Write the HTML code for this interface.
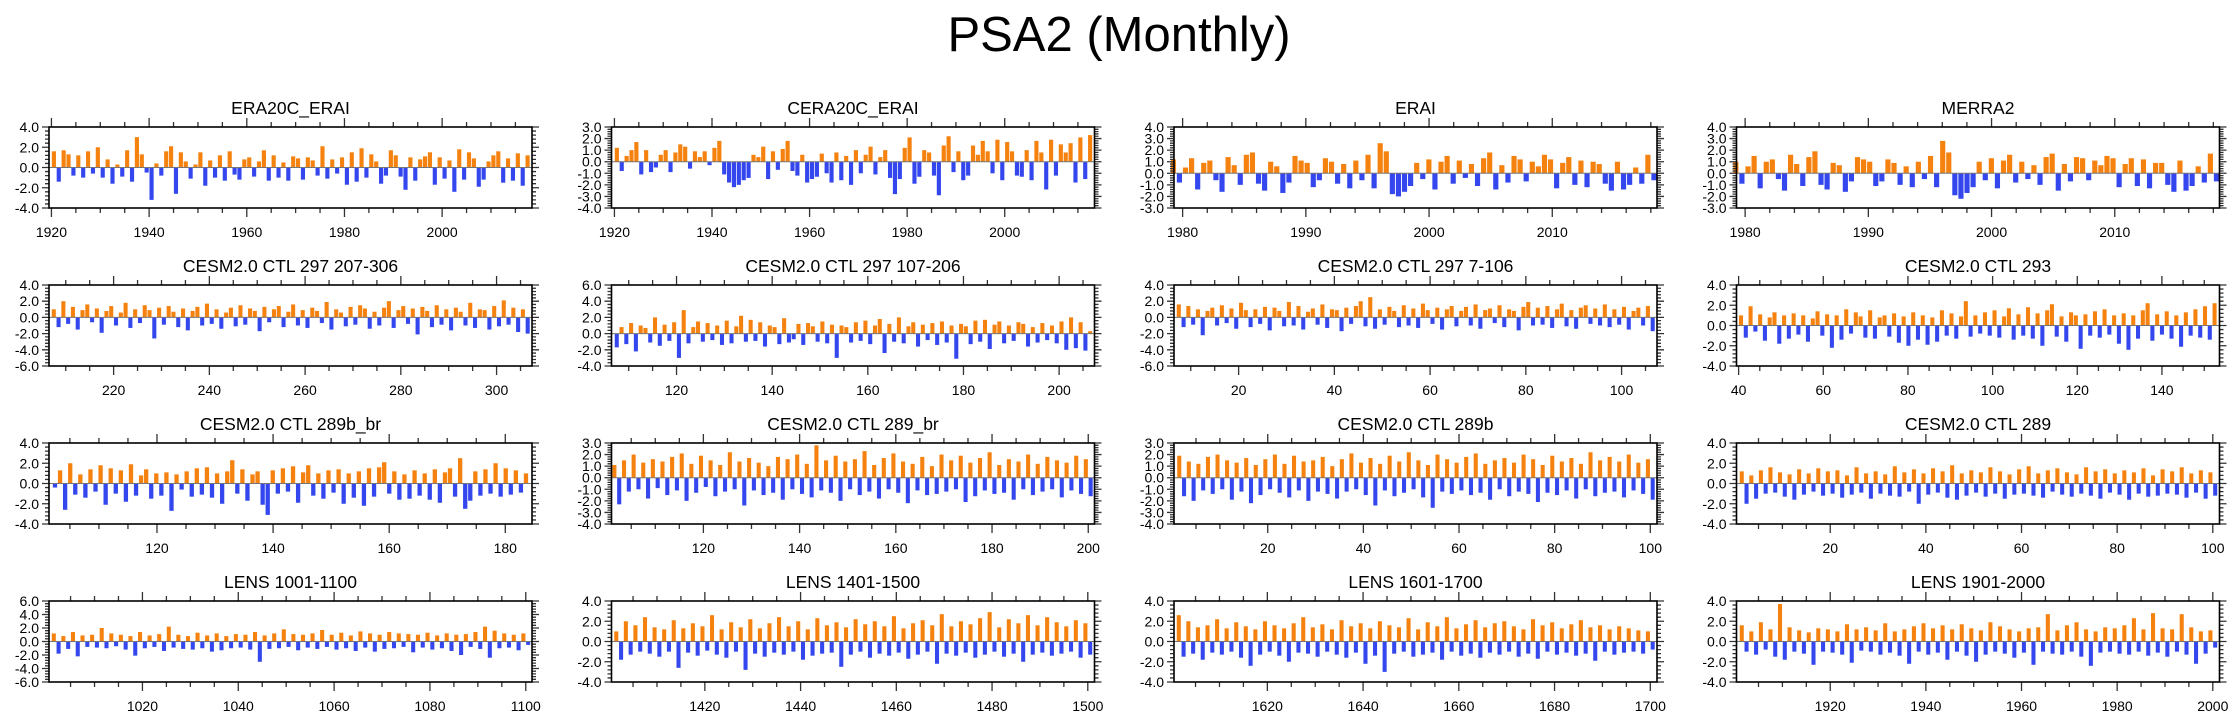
<!DOCTYPE html>
<html><head><meta charset="utf-8"><title>PSA2 (Monthly)</title>
<style>
html,body{margin:0;padding:0;background:#fff;}
svg{display:block;font-family:"Liberation Sans",Arial,sans-serif;}
</style></head>
<body>
<svg id="fig" width="2238" height="719" viewBox="0 0 2238 719" xmlns="http://www.w3.org/2000/svg">
<text x="1119" y="51" font-size="49" text-anchor="middle" fill="#000">PSA2 (Monthly)</text>
</svg>
<script>
const panelTitles = ["ERA20C_ERAI","CERA20C_ERAI","ERAI","MERRA2",
"CESM2.0 CTL 297 207-306","CESM2.0 CTL 297 107-206","CESM2.0 CTL 297 7-106","CESM2.0 CTL 293",
"CESM2.0 CTL 289b_br","CESM2.0 CTL 289_br","CESM2.0 CTL 289b","CESM2.0 CTL 289",
"LENS 1001-1100","LENS 1401-1500","LENS 1601-1700","LENS 1901-2000"];
const xDomains = [[1919.5,2018.4],[1919.4,2018.4],[1979.3,2018.5],[1979.3,2018.5],
[206.5,307.4],[106.4,207.4],[6.5,107.4],[39.5,153.6],
[101.4,184.6],[100.9,201.3],[0.4,101.4],[0.4,101.4],
[1000.5,1101.3],[1400.5,1501.4],[1600.5,1701.4],[1900.4,2001.4]];
const xStart = [1920,1920,1979,1979,207,107,7,40,102,101,1,1,1001,1401,1601,1901];
const xEnd   = [2018,2018,2018.5,2018.5,307,207,107,153,184,201,101,101,1101,1501,1701,2001];
const xMajorStep = [20,20,10,10,20,20,20,20,20,20,20,20,20,20,20,20];
const xMinorStep = [5,5,2,2,5,5,5,5,5,5,5,5,5,5,5,5];
const yDomains = [[-4,4],[-4,3],[-3,4],[-3,4],[-6,4],[-4,6],[-6,4],[-4,4],
[-4,4],[-4,3],[-4,3],[-4,4],[-6,6],[-4,4],[-4,4],[-4,4]];
const yMajorStep = [2,1,1,1,2,2,2,2,2,1,1,2,2,2,2,2];

const s1=[1.6,-1.4,1.7,1.3,-0.8,1.2,-1.0,1.6,-0.6,2.0,-1.0,0.8,-1.6,0.3,-0.9,1.7,-1.4,3.0,1.3,-0.5,-3.2,0.4,-0.8,1.6,2.1,-2.6,1.5,0.6,-1.1,0.3,1.5,-1.8,0.7,-1.0,1.2,-1.3,1.6,-0.7,-1.2,0.8,1.0,-0.9,0.6,1.7,-1.3,1.2,-1.0,0.5,-1.3,1.1,0.9,-1.2,1.0,0.7,-0.8,2.1,-1.1,0.8,-0.6,1.0,-1.7,1.5,-1.4,1.9,-1.0,1.3,0.6,-1.6,-0.8,1.7,1.2,-0.9,-2.2,1.0,-1.3,0.8,1.1,1.5,-1.7,1.0,-1.1,0.7,-2.4,1.8,-1.2,1.5,0.9,-1.9,-1.2,0.6,1.2,1.6,-1.5,0.9,-1.3,1.4,-1.8,1.2];
const s2=[1.2,-0.8,0.5,1.0,1.7,-1.1,1.0,-0.9,-0.5,0.6,1.0,-0.9,0.8,1.5,1.3,-0.6,0.9,0.4,0.9,-0.3,1.2,1.8,-1.1,-1.8,-2.2,-2.0,-1.6,-1.4,0.6,0.4,1.3,-1.5,0.9,-0.7,1.1,1.8,-0.8,-1.2,0.6,-1.8,-1.5,-1.3,0.7,-1.0,-1.8,0.8,-1.6,0.5,-2.0,1.0,-1.0,0.6,1.3,-1.1,0.4,1.0,-1.4,-2.8,-1.5,1.2,2.1,-1.9,-1.3,1.0,0.8,-1.2,-2.9,1.4,2.2,-0.9,0.9,-1.6,-1.2,1.4,0.6,1.8,0.9,-1.0,1.9,-1.6,1.7,0.9,-1.2,-1.3,1.0,-1.6,1.8,0.8,-2.4,1.9,-1.2,1.5,0.8,1.6,-1.8,2.1,-1.5,2.3];
const s3=[1.2,-0.8,0.5,1.3,-1.4,0.9,1.1,-0.6,-1.6,1.4,0.7,-1.0,1.6,1.8,-0.9,-1.5,1.0,0.6,-1.7,-0.8,1.5,1.1,0.9,-1.2,-0.6,1.3,1.0,-0.9,0.8,-1.3,1.1,-0.6,1.6,-1.3,2.6,1.9,-1.8,-2.0,-1.6,-1.1,0.9,-0.5,1.2,-1.4,1.0,1.5,-0.9,1.1,-0.4,0.8,-1.1,1.3,1.8,-1.4,0.7,-0.8,1.5,1.2,-0.7,1.0,0.6,1.6,1.2,-1.3,0.9,1.4,-1.0,1.1,-1.2,1.0,0.8,-0.9,-1.5,1.0,-1.4,-1.0,0.5,-0.9,1.6,-0.6];
const s4=[1.0,-0.9,0.6,1.5,-1.3,1.0,1.2,-0.5,-1.5,1.6,0.8,-1.1,1.4,1.9,-1.0,-1.4,0.9,0.7,-1.6,-0.7,1.4,1.2,1.0,-1.1,-0.7,1.2,0.9,-1.0,0.6,-1.2,1.0,-0.5,1.5,-1.2,2.8,1.8,-1.9,-2.2,-1.7,-1.2,1.0,-0.6,1.3,-1.3,1.1,1.6,-0.8,1.0,-0.5,0.7,-1.0,1.4,1.7,-1.5,0.8,-0.7,1.4,1.3,-0.6,1.1,0.7,1.5,1.3,-1.2,0.8,1.3,-1.1,1.2,-1.3,0.9,0.9,-1.0,-1.6,1.1,-1.5,-1.1,0.6,-0.8,1.7,-0.7];
const s5=[1.0,-1.2,2.0,-0.8,1.3,-1.5,0.9,1.6,-0.6,1.1,-1.9,0.8,1.4,-1.0,0.6,1.8,-1.3,1.0,-0.7,1.5,0.9,-2.6,1.2,-0.9,1.4,0.7,-1.2,1.1,-1.6,0.8,1.3,-1.0,1.7,-0.8,1.0,-1.4,0.6,1.2,-1.1,1.5,-0.9,1.1,0.8,-1.7,1.3,-0.6,1.0,1.4,-1.2,0.7,1.6,-1.0,0.9,-1.3,1.2,0.8,-0.7,1.9,-1.5,1.0,0.6,-1.1,1.3,-0.9,1.5,1.1,-1.4,0.7,-1.0,1.2,2.0,-1.3,0.9,1.4,-0.8,1.1,-2.1,1.3,0.8,-1.2,1.5,-0.9,1.0,-1.6,1.2,0.7,-1.0,1.8,-1.3,1.0,0.9,-1.5,1.4,-1.1,2.1,-0.9,1.2,-1.8,1.0,-2.0];
const s6=[-1.7,0.8,-1.3,1.3,-2.2,1.0,0.7,-1.1,2.0,-1.5,1.1,-0.9,1.4,-3.0,2.9,-1.2,0.8,1.5,-1.0,1.3,-0.8,1.0,-1.4,1.6,-1.2,0.9,2.2,-1.0,1.7,-0.9,1.4,-1.6,1.0,0.8,-1.3,1.9,-1.1,-0.7,1.2,-1.4,1.3,0.9,-1.0,1.5,-1.2,1.1,-3.0,1.0,0.8,-1.1,1.4,-0.9,1.6,-1.3,1.0,1.8,-2.4,1.2,-1.0,2.0,-1.2,0.9,1.4,-1.6,1.1,-0.8,1.3,-1.4,1.5,-1.1,1.0,-3.1,1.2,0.9,-1.3,1.6,-1.0,1.7,-1.9,1.1,1.5,-1.2,1.0,-0.9,1.4,1.2,-1.6,0.8,-1.1,1.3,-0.8,1.0,-1.2,1.5,-2.0,2.0,-1.8,1.4,-2.1,0.3];
const s7=[1.6,-1.2,1.4,-0.9,1.0,-2.2,0.8,1.2,-1.0,1.5,-0.7,1.1,-1.4,1.8,0.9,-1.2,1.0,-0.8,1.3,-1.6,1.2,0.8,-1.1,1.9,-1.0,1.4,-1.5,0.7,1.1,-0.9,1.6,-1.3,1.0,0.9,-1.7,1.2,-0.8,1.4,2.0,-1.1,2.5,-1.4,1.0,-0.9,1.3,0.8,-1.2,1.5,-1.0,1.1,-1.3,1.7,0.9,-0.8,1.2,-1.5,1.0,1.4,-1.1,0.8,1.3,-1.0,1.6,-1.4,0.9,1.1,-0.7,1.5,-1.2,1.0,0.8,-1.6,1.3,1.9,-1.0,1.2,-0.9,1.4,-1.3,1.0,1.7,-1.1,0.9,-1.4,1.2,1.5,-0.8,1.1,-1.0,1.6,-1.2,1.0,-0.9,1.3,-1.5,0.8,1.2,-1.0,1.4,-1.7];
const s8=[1.0,-1.2,1.9,-0.6,1.1,-1.5,0.8,1.3,-1.8,1.0,-1.3,1.2,-0.9,1.0,-1.6,0.7,1.4,-1.0,1.1,-2.2,1.0,-1.4,1.6,-0.8,1.3,0.9,-1.2,1.5,-1.3,0.8,1.0,-1.1,1.2,-1.7,0.9,-2.0,1.3,-1.4,1.0,-1.9,0.8,-1.6,1.5,-1.0,1.2,-1.3,0.9,2.4,-1.1,1.0,-0.8,1.3,-1.0,1.5,-1.2,0.9,1.7,-1.4,1.1,-1.0,1.8,-1.3,1.2,-2.0,1.5,2.1,-1.1,0.9,-1.6,1.3,1.0,-2.3,1.1,-1.0,1.4,-1.2,1.6,-0.9,1.0,-1.8,1.2,-2.4,1.0,-1.3,1.5,2.2,-1.5,1.1,-0.9,1.4,-1.3,1.0,-2.1,1.3,-1.0,1.6,-1.2,1.9,-1.4,2.2];
const s9=[-0.4,1.3,-2.6,2.0,-1.1,0.9,-1.4,1.4,-0.8,1.8,-2.1,1.5,-1.0,1.3,-1.8,1.9,-1.2,0.8,1.4,-1.5,1.0,-1.2,1.1,-2.7,0.9,-0.6,1.2,-1.3,1.5,-1.1,1.6,-1.4,1.0,-2.0,1.2,2.3,-1.0,1.4,-1.7,0.9,1.2,-2.1,-3.1,1.3,-1.0,1.5,-0.8,1.7,-1.9,1.1,1.8,-1.2,1.0,-1.5,1.3,-0.9,1.4,-2.0,1.0,-1.4,1.2,-2.2,1.5,-1.3,1.6,2.1,-1.0,1.2,-1.6,0.9,-1.5,1.3,-1.2,1.0,-1.6,1.4,-1.9,1.1,1.5,-1.3,2.5,-2.5,-1.7,1.2,-1.2,1.4,-1.0,2.0,-1.3,1.5,-1.1,1.3,-0.9,1.0];
const s10=[1.1,-2.3,1.5,-1.2,2.0,-1.0,1.3,-1.8,1.6,-0.9,1.4,-1.5,1.8,-1.1,2.1,-2.0,1.2,-1.3,1.9,-0.8,1.5,-1.6,1.1,-1.2,2.2,-1.0,1.4,-2.4,1.7,-1.1,1.3,-1.5,1.0,-1.3,1.8,-1.9,1.6,-1.0,2.0,-1.4,1.2,-1.7,2.8,-1.1,1.5,-1.3,1.9,-2.0,1.4,-1.0,1.6,-1.5,2.3,-1.2,1.1,-1.8,1.7,-1.0,2.1,-1.3,1.4,-2.2,1.2,-1.1,1.8,-1.5,1.0,-1.4,2.0,-1.2,1.5,-1.0,1.9,-2.1,1.3,-1.6,1.7,-1.1,2.2,-1.4,1.1,-1.3,1.6,-1.9,1.4,-1.0,2.0,-1.5,1.2,-1.2,1.8,-1.0,1.5,-1.7,1.3,-1.1,1.9,-1.4,1.6,-1.6];
const s11=[1.9,-1.6,1.4,-2.0,1.2,-1.1,1.8,-1.4,2.0,-1.0,1.5,-1.9,1.3,-1.2,1.7,-2.2,1.1,-1.5,1.6,-1.0,2.0,-1.3,1.2,-1.7,1.9,-1.1,1.4,-2.0,1.5,-1.2,1.8,-1.4,1.0,-1.8,1.6,-1.2,2.1,-1.0,1.3,-1.5,1.7,-2.4,1.2,-1.1,1.9,-1.6,1.4,-1.3,2.2,-1.0,1.5,-1.7,1.1,-2.6,2.0,-1.2,1.6,-1.4,1.3,-1.1,1.8,-1.5,2.1,-1.3,1.2,-1.9,1.5,-1.0,1.7,-1.6,1.3,-1.2,2.0,-1.4,1.6,-2.1,1.1,-1.3,1.9,-1.5,1.4,-1.1,1.7,-1.8,1.2,-1.0,2.2,-1.6,1.5,-1.3,1.8,-1.2,1.4,-1.7,2.0,-1.1,1.3,-1.4,1.6,-1.9];
const s12=[1.2,-2.0,0.8,-1.5,1.3,-1.0,1.6,-0.9,1.1,-1.3,0.9,-1.6,1.4,-1.1,1.0,-0.8,1.5,-1.2,1.2,-1.0,1.3,-1.4,0.8,-1.1,1.6,-0.9,1.0,-1.5,1.2,-1.0,0.9,-1.2,1.7,-1.3,1.1,-0.8,1.4,-2.0,1.0,-1.1,1.5,-0.9,1.2,-1.4,1.8,-1.6,1.0,-1.2,1.3,-0.9,1.1,-1.3,1.6,-1.0,1.2,-1.5,0.9,-1.1,1.4,-1.0,1.7,-1.2,1.0,-1.4,1.3,-0.8,1.5,-1.1,1.1,-1.3,0.9,-1.0,1.6,-1.2,1.2,-1.5,1.4,-0.9,1.0,-1.1,1.3,-1.6,1.1,-1.0,1.5,-1.3,0.8,-1.2,1.4,-1.0,1.2,-1.1,1.6,-1.4,1.0,-0.9,1.3,-1.5,1.1,-1.2];
const s13=[1.2,-1.8,0.8,-1.1,1.4,-2.2,0.9,-0.8,1.0,-0.9,2.0,-1.0,1.2,-0.7,1.0,-1.2,0.8,-2.1,1.4,-1.0,0.9,-0.8,1.1,-1.4,2.2,-0.9,1.0,-1.1,0.8,-1.2,1.3,-1.0,0.9,-1.5,1.2,-1.3,0.8,-1.0,1.1,-0.9,1.0,-1.2,1.4,-3.0,0.9,-1.1,1.2,-1.0,1.8,-0.8,1.1,-1.3,1.0,-0.9,1.2,-1.1,1.7,-0.8,1.0,-1.2,1.3,-1.0,0.9,-1.4,1.5,-0.9,1.2,-1.5,1.0,-1.1,1.4,-1.0,1.2,-0.8,1.1,-1.6,1.0,-0.9,1.3,-1.2,0.9,-1.0,1.2,-1.4,1.0,-2.0,1.1,-0.8,1.4,-1.1,2.2,-2.4,1.6,-1.0,1.2,-0.9,1.0,-1.3,1.2,-0.5];
const s14=[1.0,-1.8,2.0,-1.3,1.6,-1.0,2.4,-1.2,1.4,-1.5,1.2,-1.0,2.1,-2.6,1.3,-1.1,1.8,-1.4,1.5,-0.9,2.6,-1.3,1.2,-1.6,1.9,-1.0,1.4,-2.8,2.2,-1.2,1.3,-1.5,1.8,-1.1,2.4,-1.3,1.5,-1.0,2.0,-1.8,1.2,-1.4,2.3,-1.2,1.6,-1.1,1.9,-2.5,1.4,-1.3,2.2,-1.0,1.7,-1.6,2.0,-1.2,1.5,-1.4,2.5,-1.1,1.3,-1.7,1.8,-1.3,2.1,-1.0,1.6,-2.2,2.7,-1.2,1.5,-1.4,2.0,-1.1,1.7,-1.6,2.3,-1.3,2.9,-1.0,1.4,-1.5,2.2,-1.2,1.8,-2.0,2.6,-1.3,1.6,-1.1,2.4,-1.4,1.9,-1.2,1.5,-1.0,2.1,-1.6,1.8,-1.3];
const s15=[2.6,-1.5,2.0,-1.2,1.4,-1.8,1.6,-1.1,2.2,-1.3,1.3,-1.0,1.9,-1.6,1.5,-2.4,1.2,-1.3,2.0,-1.0,1.6,-1.4,1.3,-2.0,1.8,-1.1,2.4,-1.2,1.4,-1.5,1.7,-1.0,1.2,-1.3,2.1,-1.6,1.5,-1.1,1.8,-2.2,1.3,-1.4,2.0,-3.0,1.6,-1.2,1.4,-1.0,2.3,-1.5,1.2,-1.3,1.9,-1.1,1.5,-1.8,2.4,-1.0,1.3,-1.4,1.7,-1.2,2.1,-1.6,1.4,-1.1,1.8,-1.3,2.0,-1.0,1.5,-1.5,1.2,-1.2,2.2,-1.7,1.6,-1.0,1.9,-1.3,1.3,-1.1,1.7,-1.4,2.1,-1.2,1.4,-1.9,1.6,-1.0,1.2,-1.3,1.5,-1.1,1.3,-1.0,1.1,-1.2,1.0,-0.8];
const s16=[1.6,-1.0,1.0,-1.3,1.9,-0.8,1.2,-1.5,3.7,-1.8,1.4,-1.0,1.1,-1.2,0.9,-2.3,1.3,-1.0,1.2,-1.1,1.0,-1.3,1.7,-2.1,1.2,-0.9,1.4,-1.0,1.1,-1.3,1.8,-1.1,1.0,-1.4,1.2,-2.2,1.5,-1.0,1.8,-1.3,1.3,-1.1,1.6,-1.8,1.2,-1.0,1.7,-1.4,1.3,-2.0,1.1,-1.3,1.9,-1.0,1.5,-1.2,1.2,-1.6,1.0,-1.1,1.3,-2.3,1.4,-1.0,2.7,-1.2,1.1,-1.3,1.6,-1.0,1.9,-1.5,1.2,-2.4,1.0,-1.1,1.4,-1.0,1.3,-1.2,1.6,-1.3,2.3,-1.0,1.2,-1.4,2.8,-1.1,1.3,-1.5,1.2,-1.0,2.7,-1.3,1.4,-2.2,1.0,-1.2,1.1,-0.6];
const seriesValues=[s1,s2,s3,s4,s5,s6,s7,s8,s9,s10,s11,s12,s13,s14,s15,s16];

const NS="http://www.w3.org/2000/svg";
const svg=document.getElementById('fig');
const COLX=[49,611.5,1174,1736.5], ROWY=[127,285,443,601], PW=483, PH=81;
function mk(tag,attrs,parent){const e=document.createElementNS(NS,tag);for(const k in attrs)e.setAttribute(k,attrs[k]);(parent||svg).appendChild(e);return e;}
function fmtY(v){return v.toFixed(1);}

for(let p=0;p<16;p++){
  const col=p%4,row=Math.floor(p/4);
  const L=COLX[col],T=ROWY[row],R=L+PW,B=T+PH;
  const [x0,x1]=xDomains[p],[y0,y1]=yDomains[p];
  const xs=v=>L+(v-x0)/(x1-x0)*PW;
  const ys=v=>B-(v-y0)/(y1-y0)*PH;
  const g=mk('g',{});
  
  
  const t=mk('text',{x:L+PW/2,y:T-13,'font-size':17.5,'text-anchor':'middle',fill:'#000'},g);
  t.textContent=panelTitles[p];
  
  
  const vals=seriesValues[p];
  const span=(xEnd[p]-xStart[p])/vals.length;
  const bw=Math.max(1.2,span*(PW/(x1-x0))*0.85);
  const bg=mk('g',{},g);
  
  
  for(let i=0;i<vals.length;i++){
    const v=vals[i];
    const cx=xs(xStart[p]+(i+0.5)*span);
    const yt=ys(Math.max(v,0)),yb=ys(Math.min(v,0));
    const r=mk('rect',{x:(cx-bw/2).toFixed(2),y:yt.toFixed(2),width:bw.toFixed(2),height:Math.max(0.5,yb-yt).toFixed(2),fill:v>=0?'#f5820f':'#3447ee'},bg);
    
    
  }
  const zl=mk('line',{x1:L,x2:R,y1:ys(0),y2:ys(0),stroke:'#777','stroke-width':1},g);
  
  
  let d='';
  const ms=xMinorStep[p],Ms=xMajorStep[p];
  for(let v=Math.ceil(x0/ms)*ms;v<=x1+1e-6;v+=ms){
    const x=xs(v),maj=Math.abs(v/Ms-Math.round(v/Ms))<1e-6,len=maj?9:5;
    d+=`M${x} ${B}v${len}M${x} ${T}v${-len}`;
    if(maj){const lt=mk('text',{x:x,y:B+29,'font-size':14,'text-anchor':'middle',fill:'#000'},g);lt.textContent=v;
      
      }
  }
  const yms=yMajorStep[p]/5;
  for(let k=0;k*yms<=y1-y0+1e-6;k++){
    const v=y0+k*yms,y=ys(v),maj=k%5===0,len=maj?7:4;
    d+=`M${L} ${y}h${-len}M${R} ${y}h${len}`;
    if(maj){const lt=mk('text',{x:L-10,y:y+5,'font-size':14,'text-anchor':'end',fill:'#000'},g);lt.textContent=fmtY(v);
      
      }
  }
  const tk=mk('path',{d:d,stroke:'#333','stroke-width':1.3,fill:'none'},g);
  
  
  const box=mk('rect',{x:L,y:T,width:PW,height:PH,fill:'none',stroke:'#000','stroke-width':1.6},g);
  
  
}
</script>
</body></html>
